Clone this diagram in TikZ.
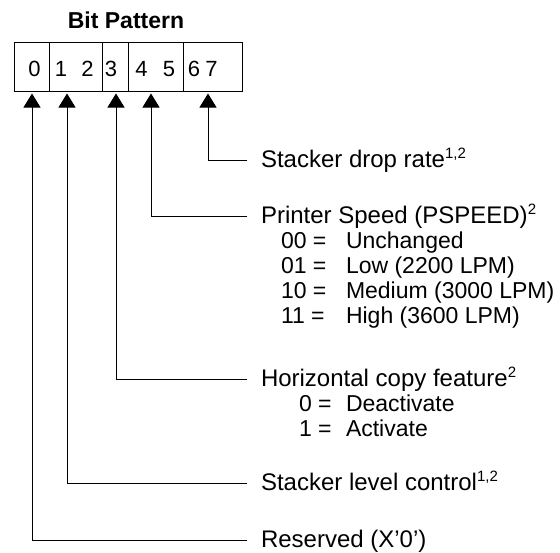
\documentclass[tikz,border=0pt]{standalone}
\usepackage{fontspec}
\setmainfont{Liberation Sans}
\usetikzlibrary{arrows.meta}
\newcommand{\supr}[1]{\raisebox{9pt}{\fontsize{15pt}{15pt}\selectfont #1}}
\begin{document}
\begin{tikzpicture}[x=1pt,y=-1pt,
  every node/.style={inner sep=0pt, outer sep=0pt},
  ttl/.style={font=\bfseries\fontsize{23pt}{25pt}\selectfont, anchor=base},
  dig/.style={font=\fontsize{22pt}{25pt}\selectfont, anchor=base},
  cell/.style={draw, line width=0.9pt, minimum height=49.5pt, anchor=north west},
  lab/.style={font=\fontsize{24pt}{25pt}\selectfont, anchor=west, text height=17pt, text depth=3pt, inner xsep=14pt},
  sub/.style={font=\fontsize{23pt}{25pt}\selectfont, anchor=base west},
  conn/.style={line width=0.9pt, -{Triangle[width=17pt,length=14pt]}}
]
\useasboundingbox (0,0) rectangle (560,552);

% title
\node[ttl] (title) at (126,28.5) {Bit Pattern};

% cells
\node[cell, minimum width=35pt] (c0)  at (14,42) {};
\node[cell, minimum width=53pt] (c12) at (49,42) {};
\node[cell, minimum width=26pt] (c3)  at (102,42) {};
\node[cell, minimum width=55pt] (c45) at (128,42) {};
\node[cell, minimum width=59pt] (c67) at (183,42) {};

% digits
\node[dig] (d0) at (34.5,76.7) {0};
\node[dig] (d1) at (61,76.7) {1};
\node[dig] (d2) at (87.5,76.7) {2};
\node[dig] (d3) at (111,76.7) {3};
\node[dig] (d4) at (141.5,76.7) {4};
\node[dig] (d5) at (169,76.7) {5};
\node[dig] (d6) at (194,76.7) {6};
\node[dig] (d7) at (211.5,76.7) {7};

% arrow targets
\coordinate (t0)  at (32,93.5);
\coordinate (t12) at (67,93.5);
\coordinate (t3)  at (116,93.5);
\coordinate (t45) at (151,93.5);
\coordinate (t67) at (208,93.5);

% labels
\node[lab] (l67) at (247,160) {Stacker drop rate\supr{1,2}};
\node[lab] (l45) at (247,216) {Printer Speed (PSPEED)\supr{2}};
\node[sub] (s00) at (281,248) {00 =};
\node[sub] (v00) at (346,248) {Unchanged};
\node[sub] (s01) at (281,273) {01 =};
\node[sub] (v01) at (346,273) {Low (2200 LPM)};
\node[sub] (s10) at (281,298) {10 =};
\node[sub] (v10) at (346,298) {Medium (3000 LPM)};
\node[sub] (s11) at (281,323) {11 =};
\node[sub] (v11) at (346,323) {High (3600 LPM)};
\node[lab] (l3) at (247,379) {Horizontal copy feature\supr{2}};
\node[sub] (s0) at (299,411) {0 =};
\node[sub] (v0) at (346,411) {Deactivate};
\node[sub] (s1) at (299,436) {1 =};
\node[sub] (v1) at (346,436) {Activate};
\node[lab] (l12) at (247,483) {Stacker level control\supr{1,2}};
\node[lab] (l0) at (247,540) {Reserved (X’0’)};

% connectors
\draw[conn] (l67.west) -| (t67);
\draw[conn] (l45.west) -| (t45);
\draw[conn] (l3.west) -| (t3);
\draw[conn] (l12.west) -| (t12);
\draw[conn] (l0.west) -| (t0);
\end{tikzpicture}
\end{document}
